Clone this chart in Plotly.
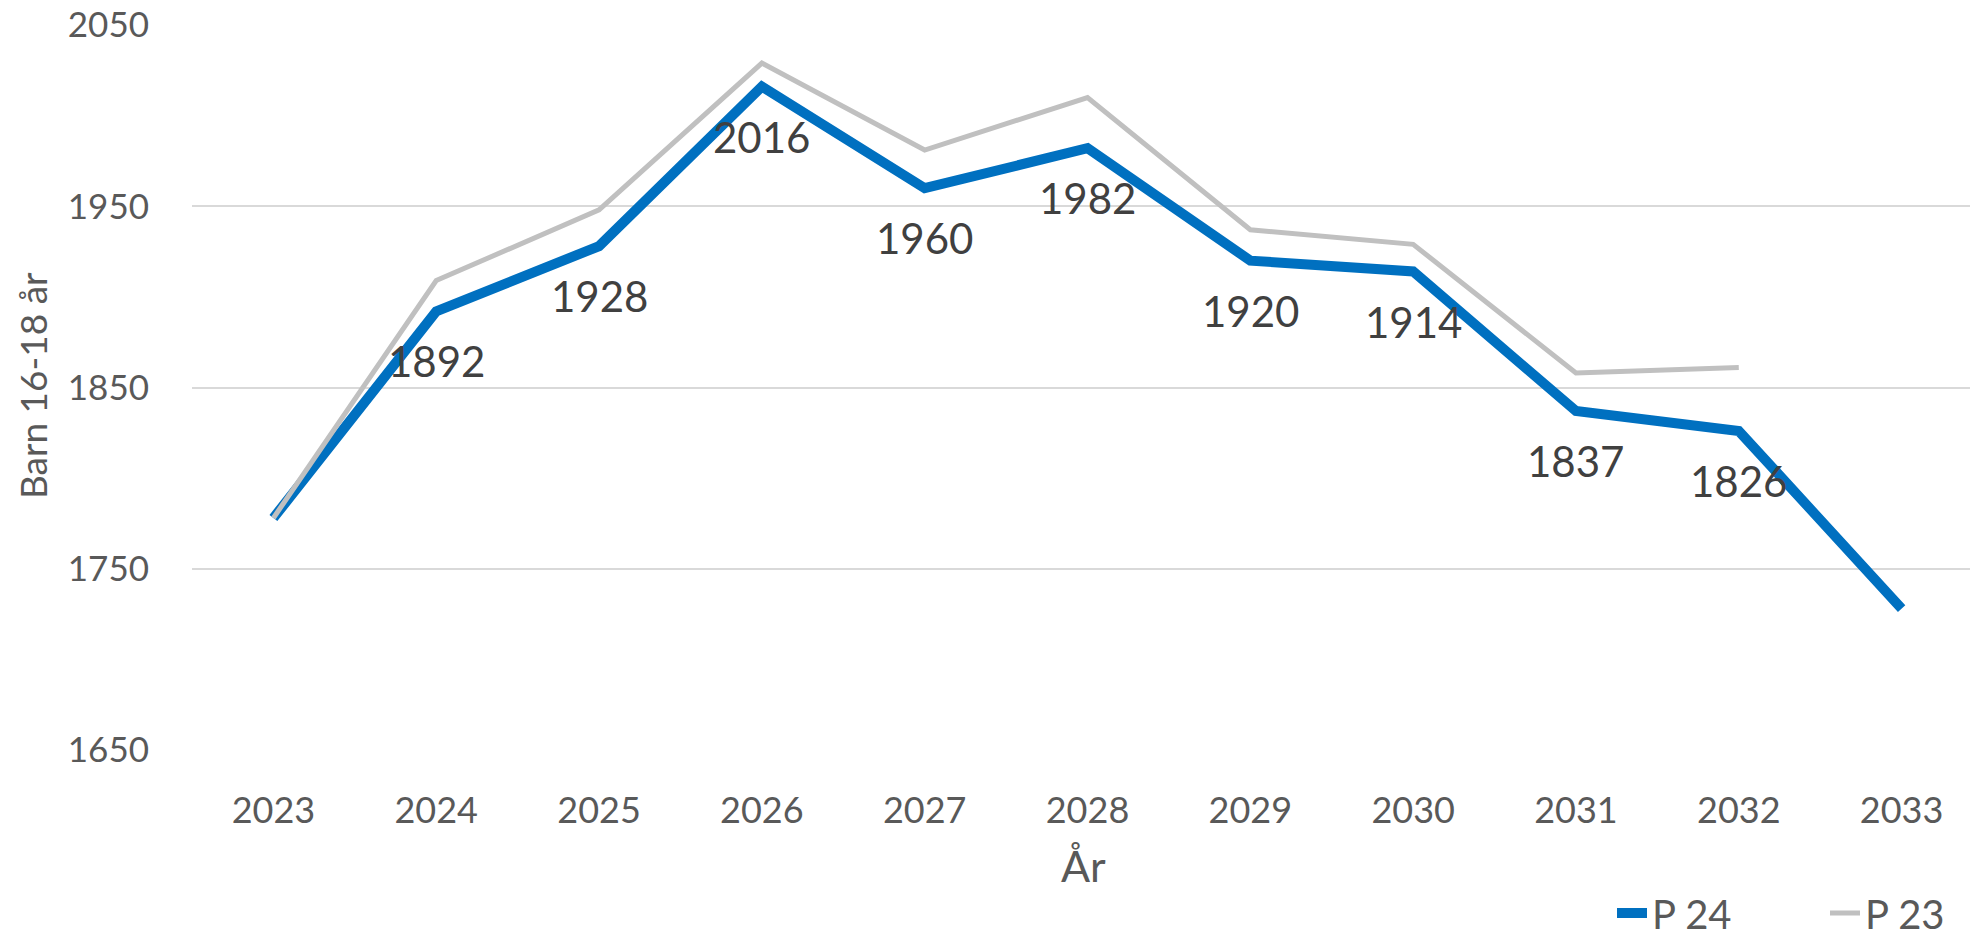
import plotly.graph_objects as go

years = [2023, 2024, 2025, 2026, 2027, 2028, 2029, 2030, 2031, 2032, 2033]
p24 = [1778, 1892, 1928, 2016, 1960, 1982, 1920, 1914, 1837, 1826, 1728]
p23 = [1778, 1909, 1948, 2029, 1981, 2010, 1937, 1929, 1858, 1861, None]
label_years = years[1:10]
label_values = p24[1:10]
y_ticks = [1650, 1750, 1850, 1950, 2050]

FONT = "Lato"
fig = go.Figure()
fig.add_trace(go.Scatter(x=years, y=p24, mode="lines", name="P 24",
                         line=dict(color="#0070C0", width=10), legend="legend"))
fig.add_trace(go.Scatter(x=years, y=p23, mode="lines", name="P 23",
                         line=dict(color="#C0C0C0", width=5), legend="legend2"))

for xv, yv in zip(label_years, label_values):
    fig.add_annotation(x=xv, y=yv, text=str(yv), showarrow=False, yshift=-50,
                       xanchor="center", yanchor="middle",
                       font=dict(family=FONT, size=42, color="#404040"))

# axis titles
fig.add_annotation(xref="paper", yref="paper", x=(1083 - 192) / 1778, y=-(866 - 750) / 725,
                   text="År", showarrow=False, xanchor="center", yanchor="middle",
                   font=dict(family=FONT, size=43, color="#595959"))
fig.add_annotation(xref="paper", yref="paper", x=-(192 - 32) / 1778, y=(750 - 386) / 725,
                   text="Barn 16-18 år", textangle=-90, showarrow=False,
                   xanchor="center", yanchor="middle",
                   font=dict(family=FONT, size=37, color="#595959"))

leg_common = dict(orientation="h", yanchor="middle", y=-(913 - 750) / 725,
                  xref="container", xanchor="left",
                  font=dict(family=FONT, size=40, color="#595959"),
                  bgcolor="rgba(0,0,0,0)")

fig.update_layout(
    width=1970, height=941,
    margin=dict(l=192, r=0, t=25, b=191, autoexpand=False),
    paper_bgcolor="white", plot_bgcolor="white",
    font=dict(family=FONT, color="#595959"),
    showlegend=True,
    legend=dict(x=1612 / 1970, **leg_common),
    legend2=dict(x=1825 / 1970, **leg_common),
    xaxis=dict(range=[2022.5, 2033.42], tickvals=years, ticktext=[str(y) for y in years],
               showgrid=False, zeroline=False, showline=False, ticks="",
               automargin=False,
               tickfont=dict(family=FONT, size=36, color="#595959"),
               ticklabelstandoff=36),
    yaxis=dict(range=[1650, 2050], tickvals=y_ticks, ticktext=[str(v) for v in y_ticks],
               showgrid=True, gridcolor="#D9D9D9", gridwidth=2, zeroline=False,
               showline=False, ticks="", automargin=False,
               tickfont=dict(family=FONT, size=35, color="#595959"),
               ticklabelstandoff=42),
)

fig.write_html("out.html", config={"displayModeBar": False},
               post_script="document.body.style.margin='0px';document.body.style.overflow='hidden';")
